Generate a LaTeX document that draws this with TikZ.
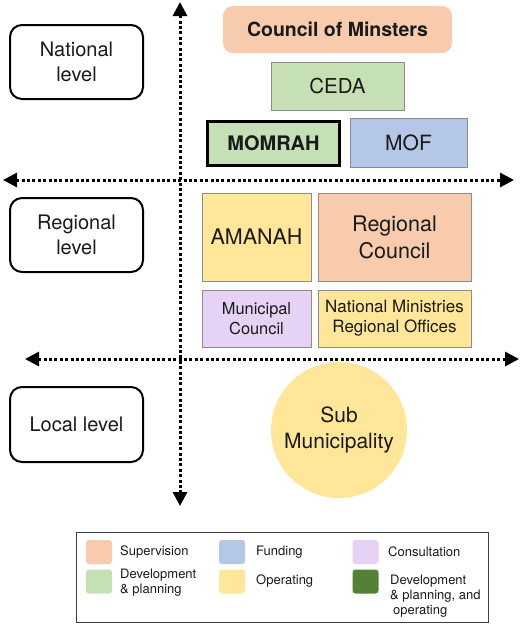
\documentclass[tikz,border=0pt]{standalone}
\usepackage{fontspec}
\setmainfont{TeX Gyre Heros}
\usetikzlibrary{arrows.meta}
\definecolor{peach}{HTML}{F8CBAD}
\definecolor{lgreen}{HTML}{C5E0B4}
\definecolor{lblue}{HTML}{B4C7E7}
\definecolor{lyellow}{HTML}{FFE699}
\definecolor{lav}{HTML}{E6D2F4}
\definecolor{dgreen}{HTML}{538135}
\definecolor{bordergray}{HTML}{8C8C8C}
\definecolor{txt}{HTML}{1A1A1A}
\tikzset{
  orgbox/.style={draw=bordergray, line width=1pt, inner sep=0pt, align=center, text=txt},
  levelbox/.style={draw=black, line width=2pt, rounded corners=12pt, inner sep=0pt, align=center,
    minimum width=133pt, minimum height=74pt, text=txt, font=\fontsize{20}{25}\selectfont},
  axisline/.style={line width=3pt, dash pattern=on 3pt off 2.4pt,
    {Triangle[length=14pt,width=14pt]}-{Triangle[length=14pt,width=14pt]}},
  swatch/.style={rounded corners=3pt, minimum width=26pt, minimum height=24pt, inner sep=0pt},
  legtext/.style={anchor=west, align=left, inner sep=0pt, text=txt, font=\fontsize{13}{15}\selectfont},
}
\begin{document}
\begin{tikzpicture}[x=1pt,y=-1pt]
\useasboundingbox[fill=white] (0,0) rectangle (520,625);
% axes
\coordinate (vtop) at (180,2);
\coordinate (vbot) at (180,506);
\coordinate (h1l) at (3,180);
\coordinate (h1r) at (514,180);
\coordinate (h2l) at (25,359);
\coordinate (h2r) at (519,359);
\draw[axisline] (vtop) -- (vbot);
\draw[axisline] (h1l) -- (h1r);
\draw[axisline] (h2l) -- (h2r);
% level boxes
\node[levelbox] (nat) at (76.5,62) {National\\level};
\node[levelbox] (reg) at (76.5,235) {Regional\\level};
\node[levelbox, minimum height=75pt] (loc) at (76.5,424.5) {Local level};
% national
\node[fill=peach, rounded corners=10pt, minimum width=229pt, minimum height=47pt, inner sep=0pt, text=txt,
  font=\fontsize{19.5}{24}\selectfont\bfseries] (com) at (337.5,29.5) {Council of Minsters};
\node[orgbox, fill=lgreen, minimum width=133pt, minimum height=48pt, font=\fontsize{20.5}{24}\selectfont] (ceda) at (337.5,86) {CEDA};
\node[orgbox, fill=lgreen, draw=black, line width=3pt, minimum width=132pt, minimum height=44pt,
  font=\fontsize{20}{24}\selectfont\bfseries] (momrah) at (273.5,143.5) {MOMRAH};
\node[orgbox, fill=lblue, minimum width=117pt, minimum height=49pt, font=\fontsize{21}{24}\selectfont] (mof) at (408.5,142.5) {MOF};
% regional
\node[orgbox, fill=lyellow, minimum width=109pt, minimum height=88pt, font=\fontsize{21.5}{27}\selectfont] (amanah) at (256.5,237) {AMANAH};
\node[orgbox, fill=peach, minimum width=153pt, minimum height=88pt, font=\fontsize{21.5}{27}\selectfont] (rc) at (394.5,237) {Regional\\Council};
\node[orgbox, fill=lav, minimum width=109pt, minimum height=57pt, font=\fontsize{16.4}{20}\selectfont] (mc) at (256.5,318.5) {Municipal\\Council};
\node[orgbox, fill=lyellow, minimum width=153pt, minimum height=57pt, font=\fontsize{17}{20}\selectfont] (nm) at (394.5,318.5) {National Ministries\\Regional Offices};
% local
\node[circle, fill=lyellow, minimum size=136pt, inner sep=0pt, align=center, text=txt,
  font=\fontsize{21}{26}\selectfont] (sub) at (339,430) {Sub\\Municipality};
% legend
\node[draw=black!75, line width=1pt, minimum width=412pt, minimum height=90pt, inner sep=0pt] (legend) at (282,577) {};
\node[swatch, fill=peach] (s1) at (99,552) {};
\node[legtext] (t1) at (120,552) {Supervision};
\node[swatch, fill=lblue] (s2) at (232,552) {};
\node[legtext] (t2) at (256,552) {Funding};
\node[swatch, fill=lav] (s3) at (365.5,552) {};
\node[legtext] (t3) at (388,552) {Consultation};
\node[swatch, fill=lgreen] (s4) at (99,581.5) {};
\node[legtext] (t4) at (120,583) {Development\\\& planning};
\node[swatch, fill=lyellow] (s5) at (232,581.5) {};
\node[legtext] (t5) at (256,581.5) {Operating};
\node[swatch, fill=dgreen] (s6) at (365.5,581.5) {};
\node[legtext] (t6) at (390,596) {Development\\\& planning, and\\\hspace*{3pt}operating};
\end{tikzpicture}
\end{document}
